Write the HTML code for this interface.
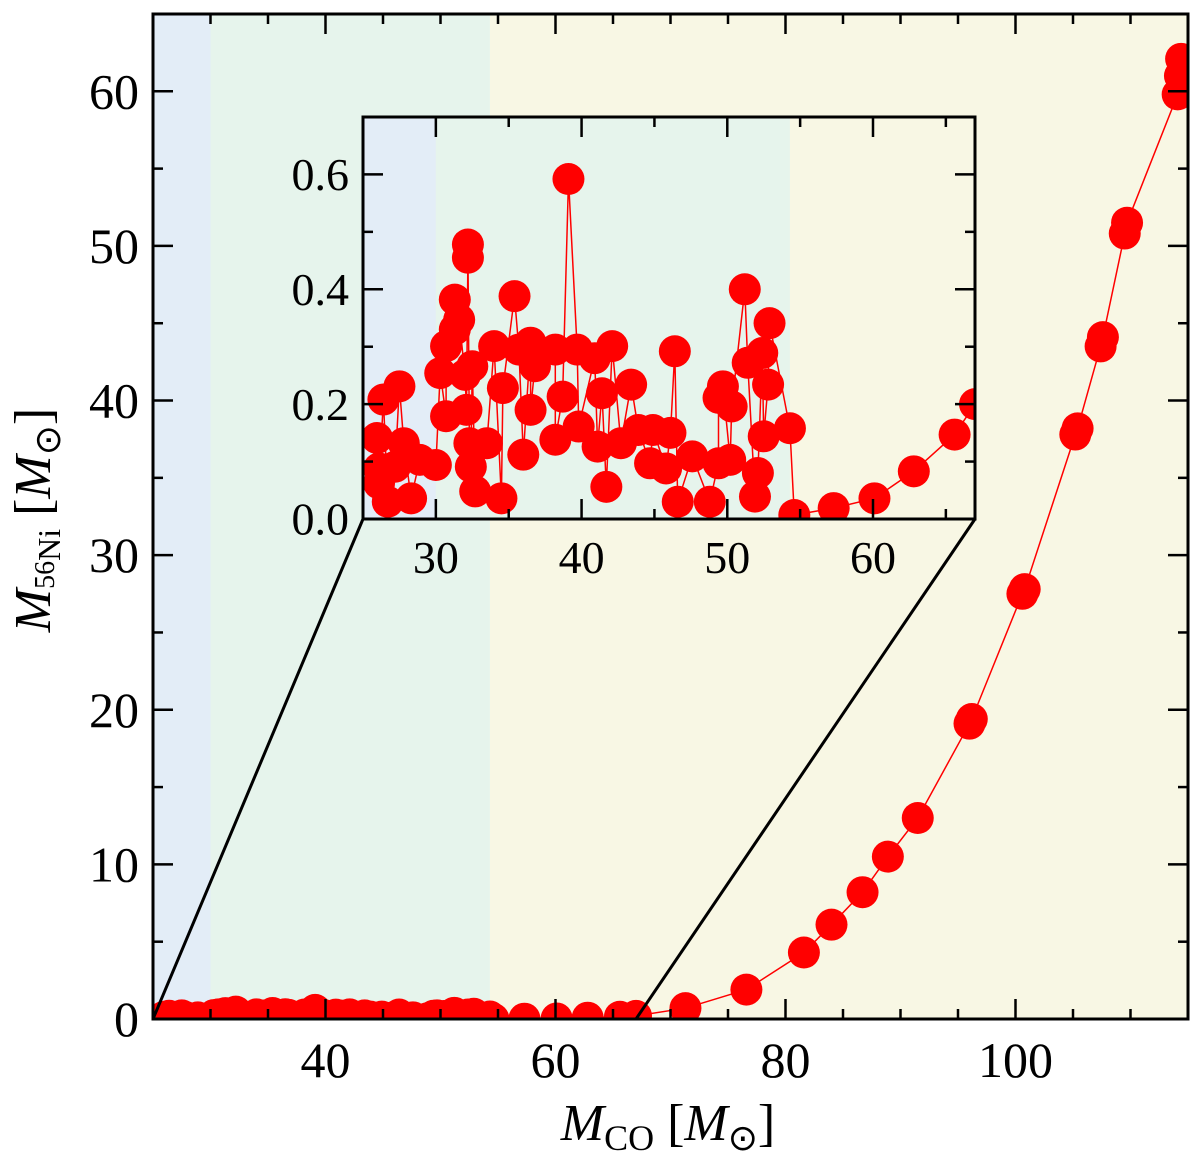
<!DOCTYPE html>
<html><head><meta charset="utf-8"><style>
html,body{margin:0;padding:0;background:#fff;}
svg{display:block;font-family:"Liberation Serif",serif;}
</style></head><body>
<svg id="chart" width="1200" height="1171" viewBox="0 0 1200 1171" xmlns="http://www.w3.org/2000/svg"></svg>
<script>
// ---- data ----
const massCO = [25.96,26.1,26.1,26.4,26.7,27.2,27.5,27.8,28.3,28.9,30.0,30.3,30.7,30.7,31.3,31.3,31.6,32.0,32.1,32.2,32.2,32.3,32.4,32.5,32.7,33.5,34.0,34.5,34.6,35.4,35.7,36.0,36.5,36.5,36.8,38.2,38.2,38.7,39.1,39.7,39.8,40.9,41.1,41.4,41.7,42.1,42.7,43.4,43.9,44.7,44.9,45.8,46.1,46.4,46.6,47.6,48.8,49.4,49.4,49.7,50.2,50.3,51.2,51.4,51.9,52.1,52.4,52.5,52.8,52.9,54.3,54.6,57.3,60.1,62.8,65.6,67.0,71.3,76.6,81.6,84.0,86.7,88.9,91.5,96.0,96.2,100.6,100.8,105.2,105.4,107.4,107.6,109.5,109.7,114.1,114.3,114.4];
const massNi = [0.141,0.088,0.062,0.208,0.030,0.091,0.231,0.132,0.036,0.103,0.094,0.254,0.179,0.301,0.330,0.382,0.347,0.251,0.190,0.455,0.478,0.132,0.091,0.266,0.048,0.132,0.301,0.036,0.228,0.388,0.295,0.112,0.307,0.190,0.266,0.295,0.138,0.213,0.592,0.295,0.161,0.280,0.126,0.219,0.056,0.301,0.132,0.234,0.155,0.097,0.155,0.088,0.150,0.292,0.030,0.109,0.030,0.097,0.211,0.231,0.103,0.196,0.400,0.272,0.039,0.080,0.289,0.144,0.234,0.341,0.158,0.007,0.019,0.036,0.083,0.147,0.2,0.7,1.9,4.3,6.1,8.2,10.5,13.0,19.1,19.4,27.5,27.8,37.8,38.2,43.5,44.1,50.8,51.5,59.8,61.0,62.1];
const mainXTicks = [40,60,80,100];
const mainYTicks = [0,10,20,30,40,50,60];
const insetXTicks = [30,40,50,60];
const insetYTicks = [0.0,0.2,0.4,0.6];
const regionEdges = [25,30,54.3,115];

const NS="http://www.w3.org/2000/svg";
const svg=document.getElementById('chart');
function mk(tag,attrs,parent){const e=document.createElementNS(NS,tag);for(const k in attrs)e.setAttribute(k,attrs[k]);(parent||svg).appendChild(e);return e;}

const M={x0:153,x1:1188,y0:1019,y1:14,xmin:25,xmax:115,ymin:0,ymax:65};
const mx=v=>M.x0+(v-M.xmin)/(M.xmax-M.xmin)*(M.x1-M.x0);
const my=v=>M.y0-(v-M.ymin)/(M.ymax-M.ymin)*(M.y0-M.y1);
const I={x0:363,x1:975,y0:519,y1:117,xmin:25,xmax:67,ymin:0,ymax:0.7};
const ix=v=>I.x0+(v-I.xmin)/(I.xmax-I.xmin)*(I.x1-I.x0);
const iy=v=>I.y0-(v-I.ymin)/(I.ymax-I.ymin)*(I.y0-I.y1);
const bandColors=['#e3edf7','#e6f4ec','#f8f7e4'];

function drawPanel(A,fx,fy,name,r,xTickMajor,xMinorStep,yMajorStep,yMinorStep,xLabels,yLabels,fmtY,fs){
  const g=mk('g',{});
  
  
  for(let i=0;i<3;i++){
    const a=Math.max(regionEdges[i],A.xmin),b=Math.min(regionEdges[i+1],A.xmax);
    if(b<=a)continue;
    const rc=mk('rect',{x:fx(a),y:A.y1,width:fx(b)-fx(a),height:A.y0-A.y1,fill:bandColors[i]},g);
    
    
  }
  const cid='clip-'+name;
  const cp=mk('clipPath',{id:cid},g);
  mk('rect',{x:A.x0,y:A.y1,width:A.x1-A.x0,height:A.y0-A.y1},cp);
  const dg=mk('g',{'clip-path':'url(#'+cid+')'},g);
  let d='';
  massCO.forEach((v,i)=>{d+=(i?'L':'M')+fx(v).toFixed(1)+' '+fy(massNi[i]).toFixed(1);});
  const ln=mk('path',{d:d,fill:'none',stroke:'#ff0000','stroke-width':1.5},dg);
  
  
  massCO.forEach((v,i)=>{
    const c=mk('circle',{cx:fx(v),cy:fy(massNi[i]),r:r,fill:'#ff0000'},dg);
    
    
  });
  const tk=mk('g',{stroke:'#000','stroke-width':2.5},g);
  for(let v=Math.ceil(A.xmin/xMinorStep)*xMinorStep;v<A.xmax;v+=xMinorStep){
    const maj=Math.abs(v/xTickMajor-Math.round(v/xTickMajor))<1e-6;
    const L=maj?20:10;
    mk('line',{x1:fx(v),x2:fx(v),y1:A.y0,y2:A.y0-L},tk);
    mk('line',{x1:fx(v),x2:fx(v),y1:A.y1,y2:A.y1+L},tk);
  }
  for(let k=0;;k++){
    const v=A.ymin+k*yMinorStep; if(v>A.ymax+1e-9)break;
    const maj=Math.abs(v/yMajorStep-Math.round(v/yMajorStep))<1e-6;
    const L=maj?20:10;
    mk('line',{x1:A.x0,x2:A.x0+L,y1:fy(v),y2:fy(v)},tk);
    mk('line',{x1:A.x1,x2:A.x1-L,y1:fy(v),y2:fy(v)},tk);
  }
  const fr=mk('rect',{x:A.x0,y:A.y1,width:A.x1-A.x0,height:A.y0-A.y1,fill:'none',stroke:'#000','stroke-width':3},g);
  
  
  xLabels.forEach(v=>{
    const t=mk('text',{x:fx(v),y:A.y0+fs+8,'text-anchor':'middle','font-size':fs},g);
    t.textContent=v;
    
    
  });
  yLabels.forEach(v=>{
    const t=mk('text',{x:A.x0-14,y:fy(v)+fs*0.34,'text-anchor':'end','font-size':fs},g);
    t.textContent=fmtY(v);
    
    
  });
  return g;
}

drawPanel(M,mx,my,'main-plot',16,20,5,10,5,mainXTicks,mainYTicks,v=>String(v),50);

const cn=mk('g',{stroke:'#000','stroke-width':3});


mk('line',{x1:mx(25),y1:my(0),x2:I.x0,y2:I.y0},cn);
mk('line',{x1:mx(67),y1:my(0),x2:I.x1,y2:I.y0},cn);

drawPanel(I,ix,iy,'inset-plot',16,10,5,0.2,0.1,insetXTicks,insetYTicks,v=>v.toFixed(1),46);

const xt=mk('text',{x:668,y:1140,'text-anchor':'middle','font-size':52});


xt.innerHTML='<tspan font-style="italic">M</tspan><tspan font-size="36" dy="10">CO</tspan><tspan dy="-10"> [</tspan><tspan font-style="italic">M</tspan><tspan font-size="36" dy="10">⊙</tspan><tspan dy="-10">]</tspan>';
const yt=mk('text',{x:0,y:0,'text-anchor':'middle','font-size':52,transform:'translate(50,520) rotate(-90)'});


yt.innerHTML='<tspan font-style="italic">M</tspan><tspan font-size="28" dy="4">56</tspan><tspan font-size="32" dy="6">Ni</tspan><tspan dy="-10"> [</tspan><tspan font-style="italic">M</tspan><tspan font-size="36" dy="10">⊙</tspan><tspan dy="-10">]</tspan>';
</script>
</body></html>
